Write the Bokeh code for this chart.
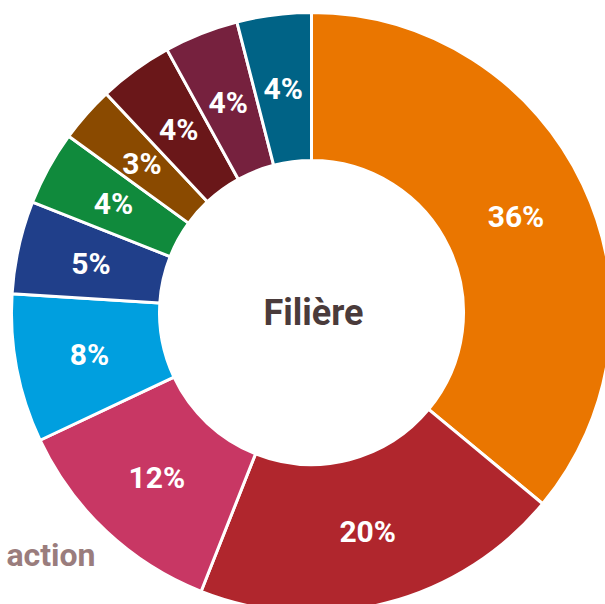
import math
from bokeh.plotting import figure
from bokeh.models import Range1d, ColumnDataSource
from bokeh.core.properties import value
from bokeh.embed import file_html
from bokeh.resources import INLINE

labels = ["36%", "20%", "12%", "8%", "5%", "4%", "3%", "4%", "4%", "4%"]
shares = [36, 20, 12, 8, 5, 4, 3, 4, 4, 4]
colors = ["#EA7600", "#B0262D", "#C83764", "#009FDF", "#203F8A",
          "#108A3C", "#8A4A00", "#6A1719", "#76213E", "#006386"]
center_title = "Filière"
side_text = "action"

cx, cy = 311, -312
r_in, r_out = 152, 300

total = sum(shares)
starts, ends, lx, ly = [], [], [], []
acc = 0.0
for s in shares:
    a0 = math.pi / 2 - 2 * math.pi * acc / total
    acc += s
    a1 = math.pi / 2 - 2 * math.pi * acc / total
    starts.append(a0)
    ends.append(a1)
    mid = (a0 + a1) / 2
    rl = (r_in + r_out) / 2
    lx.append(cx + rl * math.cos(mid))
    ly.append(cy + rl * math.sin(mid))

src = ColumnDataSource(dict(start=starts, end=ends, color=colors,
                            lx=lx, ly=ly, label=labels))

p = figure(width=605, height=604, output_backend="svg", toolbar_location=None,
           x_range=Range1d(0, 605), y_range=Range1d(-604, 0),
           min_border=0, match_aspect=False)
p.axis.visible = False
p.grid.visible = False
p.outline_line_color = None
p.background_fill_color = "white"

p.annular_wedge(x=cx, y=cy, inner_radius=r_in, outer_radius=r_out,
                start_angle="start", end_angle="end", direction="clock",
                fill_color="color", line_color="white", line_width=3,
                source=src)

p.text(x="lx", y="ly", text="label", source=src, text_color="white",
       text_font=value("Roboto"), text_font_style="bold",
       text_font_size="30px", text_align="center", text_baseline="middle")

p.text(x=[cx + 2], y=[cy], text=[center_title], text_color="#4A3B3B",
       text_font=value("Roboto"), text_font_style="bold",
       text_font_size="36px", text_align="center", text_baseline="middle")

p.text(x=[95], y=[-554], text=[side_text], text_color="#9A7D7D",
       text_font=value("Roboto"), text_font_style="bold",
       text_font_size="32px", text_align="right", text_baseline="middle")

open("out.html", "w").write(file_html(p, INLINE))
